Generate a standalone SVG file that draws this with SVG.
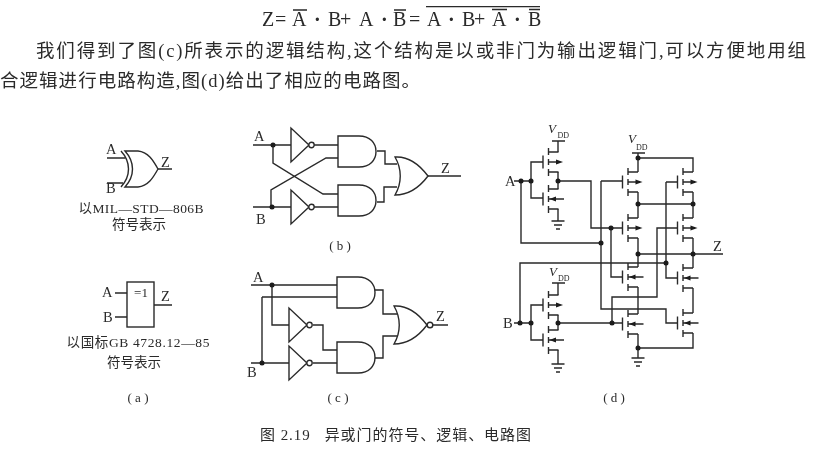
<svg xmlns="http://www.w3.org/2000/svg" xmlns:xlink="http://www.w3.org/1999/xlink" width="822" height="456" viewBox="0 0 822 456">
<style>
text{font-family:"Liberation Serif","Noto Sans CJK SC",serif;fill:#2a2a2a}
.w{fill:none;stroke:#2a2a2a;stroke-width:1.4;stroke-linejoin:miter}
.g{fill:#fff;stroke:#2a2a2a;stroke-width:1.4}
.d{fill:#1a1a1a;stroke:none}
.h{fill:#1a1a1a;stroke:none}
.b{font-size:18.500px}
.l{font-size:14.500px}
.c{font-size:13px;text-anchor:middle}
.s{font-size:13.500px;text-anchor:middle}
.t{font-size:15px}
.v{font-size:13px;font-style:italic}
.u{font-size:8px}
.f{font-size:20px}
.p{font-weight:bold}
</style>
<defs>
<filter id="soft" x="0" y="0" width="100%" height="100%"><feGaussianBlur stdDeviation="0.35"/></filter>
<g id="pmos"><path class="w" d="M0-6.500V6.500M5.500-14V-7M5.500-3V3M5.500 7V14M5.500-10H15.500M5.500 10H15.500M5.500 0H15"/><path class="h" d="M13 -2.500L20 0L13 2.500Z"/></g>
<g id="nmos"><path class="w" d="M0-6.500V6.500M5.500-14V-7M5.500-3V3M5.500 7V14M5.500-10H15.500M5.500 10H15.500M6 0H21"/><path class="h" d="M6.500 0L13-2.500V2.500Z"/></g>
<g id="gnd"><path class="w" d="M-6.500 0H6.500M-4 4H4M-2 8H2"/></g>
<path id="and" class="g" d="M0 0H21C32 0 38 7 38 15.500C38 24 32 31 21 31H0Z"/>
<path id="or" class="g" d="M0 0C14 -1 24 7 33 19C24 31 14 38 0 38C7 26 7 12 0 0Z"/>
<g id="inv"><path class="g" d="M0-17V17L18 0Z"/><circle class="g" cx="20.500" cy="0" r="2.700"/></g>
</defs>
<rect width="822" height="456" fill="#fff"/>
<g filter="url(#soft)">
<g id="formula">
<text class="f" y="26"><tspan x="262">Z</tspan><tspan x="275">=</tspan><tspan x="292">A</tspan><tspan class="p" x="314">·</tspan><tspan x="328">B</tspan><tspan x="340">+</tspan><tspan x="359">A</tspan><tspan class="p" x="381">·</tspan><tspan x="393">B</tspan><tspan x="409">=</tspan><tspan x="427">A</tspan><tspan class="p" x="448">·</tspan><tspan x="462">B</tspan><tspan x="474">+</tspan><tspan x="492">A</tspan><tspan class="p" x="514">·</tspan><tspan x="528">B</tspan></text>
<path class="w" d="M293 10H307M394 10H406M426 6.500H540M492 9.500H507M529 9.500H540"/>
</g>
<g id="paragraph">
<text class="b" x="36" y="57" textLength="770" lengthAdjust="spacing">我们得到了图(c)所表示的逻辑结构,这个结构是以或非门为输出逻辑门,可以方便地用组</text>
<text class="b" x="0" y="87" textLength="420" lengthAdjust="spacing">合逻辑进行电路构造,图(d)给出了相应的电路图。</text>
</g>

<g id="connectors">
<!-- a -->
<path class="w" d="M107 158H125M107 183H123M158 169H172M115 293H127M115 317H127M154 305H172"/>
<!-- b -->
<path class="w" d="M253 145H291M314 145H338M253 207H291M314 207H338M273 145V163L323 194H338M338 158H326L271 190V207M377 151H385V164H397M377 202H384V187H397M428 176H461"/>
<!-- c -->
<path class="w" d="M251 285H337M262 297H337M262 297V363M251 363H289M272 285V325H289M313 325H323V350H337M313 363H337M375 290H383V314H397M375 358H383V336H397M433 325H448"/>
<!-- d left -->
<path class="w" d="M514 181H531M531 181V162H543M531 181V198H543M558 152V141M558 172V189M558 209V221M558 181H591V228H622M521 181V243H601M601 181V309H666V323H677M601 181H622M611 228V277H622"/>
<path class="w" d="M514 323H531M531 323V305H543M531 323V340H543M520 323V263H666M558 295V283M558 315V330M558 350V364M558 323H622M612 323V297H657V228H677M666 182H677M666 182V278H677"/>
<!-- d right -->
<path class="w" d="M638 153V172M638 158H693V172M638 192V218M693 192V218M638 204H693M638 238V267M693 238V268M638 254H723M638 287V314M693 288V313M638 334V358M638 348H693V333"/>
<circle class="d" cx="273" cy="145" r="2.500"/><circle class="d" cx="272" cy="207" r="2.500"/><circle class="d" cx="272" cy="285" r="2.500"/><circle class="d" cx="262" cy="363" r="2.500"/>
<circle class="d" cx="521" cy="181" r="2.500"/><circle class="d" cx="531" cy="181" r="2.500"/><circle class="d" cx="558" cy="181" r="2.500"/><circle class="d" cx="611" cy="228" r="2.500"/><circle class="d" cx="601" cy="243" r="2.500"/><circle class="d" cx="520" cy="323" r="2.500"/><circle class="d" cx="531" cy="323" r="2.500"/><circle class="d" cx="558" cy="323" r="2.500"/><circle class="d" cx="612" cy="323" r="2.500"/><circle class="d" cx="638" cy="158" r="2.500"/><circle class="d" cx="638" cy="204" r="2.500"/><circle class="d" cx="693" cy="204" r="2.500"/><circle class="d" cx="638" cy="254" r="2.500"/><circle class="d" cx="693" cy="254" r="2.500"/><circle class="d" cx="666" cy="263" r="2.500"/><circle class="d" cx="638" cy="348" r="2.500"/>
</g>

<g id="a-xor">
<path class="w" d="M121 151C131 162 131 176 121 187"/>
<path class="w" d="M125 151H138C148 152 153 160 158 169C153 178 148 186 138 187H125C135 176 135 162 125 151Z"/>
<text class="l" x="106" y="154">A</text><text class="l" x="106" y="193">B</text><text class="l" x="161" y="167">Z</text>
<text class="s" x="141" y="213" textLength="125" lengthAdjust="spacing">以MIL—STD—806B</text>
<text class="s" x="139" y="229">符号表示</text>
</g>
<g id="a-box">
<rect class="g" x="127" y="282" width="27" height="45"/>
<text class="c" x="141" y="297">=1</text>
<text class="l" x="102" y="297">A</text><text class="l" x="103" y="322">B</text><text class="l" x="161" y="301">Z</text>
<text class="s" x="138" y="347" textLength="143" lengthAdjust="spacing">以国标GB 4728.12—85</text>
<text class="s" x="134" y="367">符号表示</text>
<text class="c" x="138" y="402">( a )</text>
</g>

<g id="b-labels"><text class="l" x="254" y="141">A</text><text class="l" x="256" y="224">B</text><text class="l" x="441" y="173">Z</text><text class="c" x="340" y="250">( b )</text></g>
<use id="b-inv1" href="#inv" xlink:href="#inv" x="291" y="145"/>
<use id="b-inv2" href="#inv" xlink:href="#inv" x="291" y="207"/>
<use id="b-and1" href="#and" xlink:href="#and" x="338" y="136"/>
<use id="b-and2" href="#and" xlink:href="#and" x="338" y="185"/>
<use id="b-or" href="#or" xlink:href="#or" x="395" y="157"/>

<g id="c-labels"><text class="l" x="253" y="282">A</text><text class="l" x="247" y="377">B</text><text class="l" x="436" y="321">Z</text><text class="c" x="338" y="402">( c )</text></g>
<use id="c-and1" href="#and" xlink:href="#and" x="337" y="277"/>
<use id="c-and2" href="#and" xlink:href="#and" x="337" y="342"/>
<use id="c-inv1" href="#inv" xlink:href="#inv" x="289" y="325"/>
<use id="c-inv2" href="#inv" xlink:href="#inv" x="289" y="363"/>
<g id="c-nor"><use href="#or" xlink:href="#or" x="394" y="306"/><circle class="g" cx="430" cy="325" r="2.800"/></g>

<g id="d-labels">
<text class="l" x="505" y="186">A</text><text class="l" x="503" y="328">B</text><text class="l" x="713" y="251">Z</text>
<text class="v" x="548" y="133">V</text><text class="u" x="557.500" y="138">DD</text>
<text class="v" x="628" y="143">V</text><text class="u" x="636" y="150">DD</text>
<text class="v" x="549" y="276">V</text><text class="u" x="558" y="281">DD</text>
<text class="c" x="614" y="402">( d )</text>
</g>
<g id="d-devices">
<use id="m1" href="#pmos" xlink:href="#pmos" transform="translate(543 162)"/>
<use id="m2" href="#nmos" xlink:href="#nmos" transform="translate(543 199)"/>
<use id="m3" href="#pmos" xlink:href="#pmos" transform="translate(543 305)"/>
<use id="m4" href="#nmos" xlink:href="#nmos" transform="translate(543 340)"/>
<use id="m5" href="#pmos" xlink:href="#pmos" transform="translate(622.500 182)"/>
<use id="m6" href="#pmos" xlink:href="#pmos" transform="translate(622.500 228)"/>
<use id="m7" href="#nmos" xlink:href="#nmos" transform="translate(622.500 277)"/>
<use id="m8" href="#nmos" xlink:href="#nmos" transform="translate(622.500 324)"/>
<use id="m9" href="#pmos" xlink:href="#pmos" transform="translate(677.500 182)"/>
<use id="m10" href="#pmos" xlink:href="#pmos" transform="translate(677.500 228)"/>
<use id="m11" href="#nmos" xlink:href="#nmos" transform="translate(677.500 278)"/>
<use id="m12" href="#nmos" xlink:href="#nmos" transform="translate(677.500 323)"/>
<path class="w" d="M552 141H565M552 283H565M632 153H645"/>
<use href="#gnd" xlink:href="#gnd" x="558" y="221"/>
<use href="#gnd" xlink:href="#gnd" x="558" y="364"/>
<use href="#gnd" xlink:href="#gnd" x="638" y="358"/>
</g>
<g id="caption"><text class="t" x="260" y="440" xml:space="preserve" textLength="271" lengthAdjust="spacing">图 2.19   异或门的符号、逻辑、电路图</text></g>
</g>
</svg>
